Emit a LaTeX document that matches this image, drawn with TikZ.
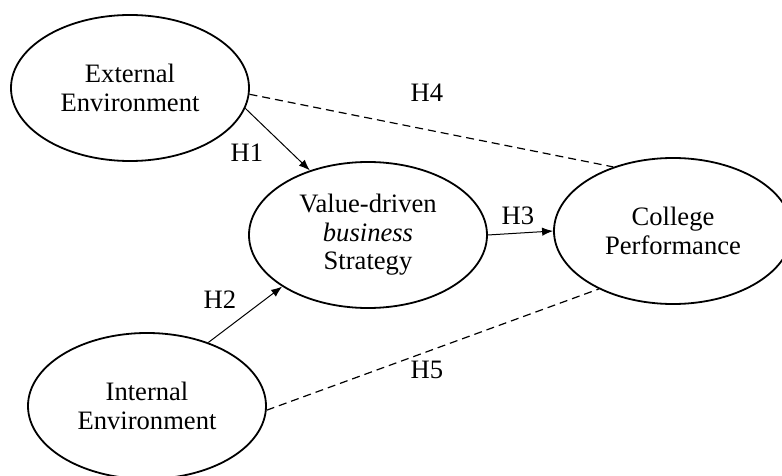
\documentclass[tikz,border=0pt]{standalone}
\usepackage{fontspec}
\setmainfont{Liberation Serif}
\usetikzlibrary{positioning}
\usetikzlibrary{shapes.geometric}
\usetikzlibrary{arrows.meta}

\begin{document}
\begin{tikzpicture}[
                          on grid,
                          every node/.style={font=\fontsize{13.3}{14.2}\selectfont},
                          ovalnode/.style={ellipse, draw, line width=0.9pt, minimum width=119pt, minimum height=73pt, inner sep=0pt, align=center},
                          hyplabel/.style={inner sep=0pt},
                          hyparrow/.style={line width=0.5pt, -{Latex[length=5.5pt,width=4.2pt]}},
                          hypdashed/.style={line width=0.6pt, dash pattern=on 4pt off 2.5pt},
                      ]
                      \useasboundingbox (-65pt,44pt) rectangle (326pt,-194pt);

                      %Nodes
                      \node[ovalnode]    (ext)                                          {External\\Environment};
                      \node[ovalnode]    (value)   [below right=73.5pt and 119pt of ext]  {Value-driven\\\textit{business}\\Strategy};
                      \node[ovalnode]    (perf)    [above right=2pt and 152.5pt of value] {College\\Performance};
                      \node[ovalnode]    (intl)    [below right=159pt and 8.5pt of ext]   {Internal\\Environment};

                      %Labels
                      \node[hyplabel]    (h1)      [below right=32.5pt and 58.5pt of ext]  {H1};
                      \node[hyplabel]    (h2)      [above right=53pt and 36.5pt of intl]   {H2};
                      \node[hyplabel]    (h3)      [above right=9.5pt and 75pt of value]   {H3};
                      \node[hyplabel]    (h4)      [below right=2.5pt and 148.5pt of ext]  {H4};
                      \node[hyplabel]    (h5)      [above right=18pt and 140pt of intl]    {H5};

                      %Lines
                      \draw[hyparrow]  (ext.-10)   -- (value.132);
                      \draw[hyparrow]  (intl.46)   -- (value.211);
                      \draw[hyparrow]  (value.east) -- (perf.west);
                      \draw[hypdashed] (ext.-3)    -- (perf.133);
                      \draw[hypdashed] (intl.-2)   -- (perf.218);
                  \end{tikzpicture}
\end{document}
